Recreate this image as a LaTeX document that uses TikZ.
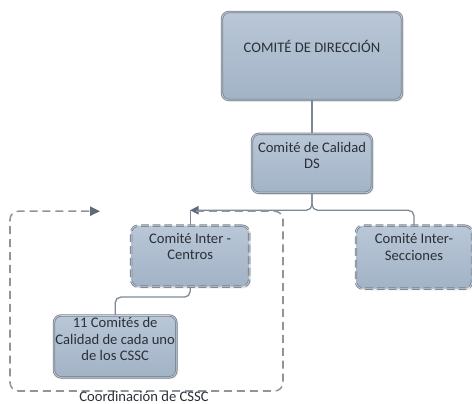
\documentclass[tikz,border=0pt]{standalone}
\usepackage{fontspec}
\setmainfont{Carlito}
\usepackage{tikz}
\usetikzlibrary{arrows.meta,positioning,calc,shadows}

\definecolor{boxtop}{HTML}{B9C7D7}
\definecolor{boxbot}{HTML}{A2B3C6}
\definecolor{boxedge}{HTML}{77838F}
\definecolor{boxrim}{HTML}{C9D2DC}
\definecolor{linegray}{HTML}{7D8895}
\definecolor{framegray}{HTML}{8F959D}
\definecolor{tipgray}{HTML}{5E6A77}
\definecolor{txtgray}{HTML}{2A3038}

\begin{document}
\begin{tikzpicture}[
  font=\fontsize{10.4}{11.8}\selectfont,
  box/.style={draw=boxedge,line width=0.6pt,double=boxrim,double distance=0.5pt,
              rounded corners=5pt,top color=boxtop,bottom color=boxbot,
              align=center,text=txtgray,inner sep=1pt,
              drop shadow={opacity=0.2,shadow xshift=1.2pt,shadow yshift=-1.2pt}},
  dbox/.style={box,dash pattern=on 5.5pt off 2.8pt},
  conn/.style={draw=linegray,line width=0.9pt,rounded corners=4pt},
  arr/.style={conn,-{Triangle[length=6pt,width=6pt,color=tipgray]}},
  frame/.style={draw=framegray,line width=1.1pt,dash pattern=on 5.7pt off 3.5pt,
                rounded corners=6pt}
]
\useasboundingbox (0,0) rectangle (11.8,-10.1);

\node[box,minimum width=4.5cm,minimum height=2.2cm,text height=0.3cm,
  text depth=0.465cm] (dir) at (7.8,-1.4) {COMITÉ DE DIRECCIÓN};
\node[box,minimum width=3cm,minimum height=1.475cm,text height=0.75cm,
  text depth=0.475cm,below=0.825cm of dir] (cal) {Comité de Calidad\\DS};
\node[dbox,minimum width=2.95cm,minimum height=1.525cm,text height=0.75cm,
  text depth=0.575cm,below left=0.8cm and 0.05cm of cal] (icen)
  {Comité Inter -\\Centros};
\node[dbox,minimum width=2.9cm,minimum height=1.575cm,text height=0.75cm,
  text depth=0.6cm,below=0.8cm of cal,xshift=2.55cm] (isec)
  {Comité Inter-\\Secciones};
\node[box,minimum width=2.95cm,minimum height=1.525cm,text height=1.1cm,
  text depth=0.375cm,below=0.7cm of icen,xshift=-1.875cm] (cssc)
  {11 Comités de\\Calidad de cada uno\\de los CSSC};

% connectors
\coordinate (bus) at ($(cal.south)+(0,-0.425cm)$);
\draw[conn] (dir) -- (cal);
\draw[arr] (cal.south) |- (bus -| icen.north);
\draw[conn] (bus -| icen.north) -- (icen.north);
\draw[conn] (cal.south) -- (bus) -| (isec.north);
\draw[conn] (icen.south) -- ++(0,-0.25cm) -| (cssc.north);

% coordination frame
\coordinate (frA) at (4.9,-5.28);
\coordinate (frB) at (7.075,-5.28);
\coordinate (frC) at (7.075,-9.775);
\coordinate (frD) at (0.25,-9.775);
\coordinate (frE) at (0.25,-5.28);
\coordinate (frF) at (2.5,-5.28);
\draw[frame,-{Triangle[length=7pt,width=6.5pt,color=tipgray]}]
  (frA) -- (frB) -- (frC) -- (frD) -- (frE) -- (frF);
\node[text=txtgray,anchor=base,inner sep=0pt] (lbl) at (3.6,-10.04)
  {Coordinación de CSSC};
\end{tikzpicture}
\end{document}
